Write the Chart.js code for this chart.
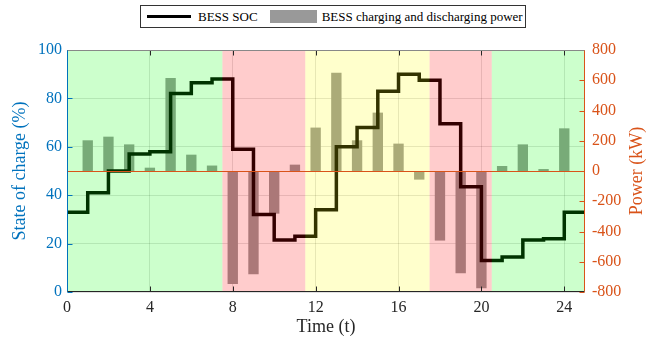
<!DOCTYPE html>
<html>
<head>
<meta charset="utf-8">
<script src="https://cdn.jsdelivr.net/npm/chart.js@4"></script>
<style>
  body { margin: 0; background: #fff; font-family: "Liberation Serif", "Times New Roman", serif; }
  #wrap { position: relative; width: 665px; height: 340px; }
  #legend { position: absolute; left: 140px; top: 5px; width: 386px; height: 23px; box-sizing: border-box;
            border: 1px solid #333; background: #fff; font-size: 13px; color: #000;
            display: flex; align-items: center; white-space: nowrap; }
  .ln { width: 44px; height: 3px; background: #000; margin-left: 6px; }
  .bx { width: 47px; height: 13px; background: #999; margin-left: 12px; }
  .t1 { margin-left: 7px; }
  .t2 { margin-left: 5px; }
</style>
</head>
<body>
<div id="wrap">
  <canvas id="chart" width="665" height="340"></canvas>
  <div id="legend"><span class="ln"></span><span class="t1">BESS SOC</span><span class="bx"></span><span class="t2">BESS charging and discharging power</span></div>
</div>
<script>
// state of charge, value held from each hour to the next
const socTime = [0, 1, 2, 3, 4, 5, 6, 7, 8, 9, 10, 11, 12, 13, 14, 15, 16, 17, 18, 19, 20, 21, 22, 23, 24, 25];
const soc = [33, 41, 50, 57, 58, 82, 86.5, 88, 59, 32, 21.5, 23, 34, 60, 68, 83, 90, 87.5, 69.5, 43.5, 13, 14.5, 21.5, 22, 33, 33];

// battery power per hour (kW)
const powerTime = [1, 2, 3, 4, 5, 6, 7, 8, 9, 10, 11, 12, 13, 14, 15, 16, 17, 18, 19, 20, 21, 22, 23, 24];
const power = [203, 227, 176, 22, 615, 108, 36, -747, -683, -282, 42, 287, 650, 203, 386, 181, -57, -460, -676, -775, 33, 176, 13, 282];

const xTicks = [0, 4, 8, 12, 16, 20, 24];

// tariff periods shaded over the data
const regionStart = [0, 7.5, 11.5, 17.5, 20.5];
const regionEnd = [7.5, 11.5, 17.5, 20.5, 25];
const regionColor = ['rgba(0,255,0,0.2)', 'rgba(255,0,0,0.2)', 'rgba(255,255,0,0.2)', 'rgba(255,0,0,0.2)', 'rgba(0,255,0,0.2)'];

const blue = 'rgb(0,114,189)';
const orange = 'rgb(217,83,25)';
const dark = 'rgb(38,38,38)';
const serif = '"Liberation Serif", "Times New Roman", serif';

const overlay = {
  id: 'overlay',
  afterDatasetsDraw(chart) {
    const { ctx, chartArea: a, scales: { x, y1 } } = chart;
    ctx.save();
    regionStart.forEach((s, i) => {
      const x0 = x.getPixelForValue(s), x1 = x.getPixelForValue(regionEnd[i]);
      ctx.fillStyle = regionColor[i];
      ctx.fillRect(x0, a.top, x1 - x0, a.bottom - a.top);
    });
    const z = Math.round(y1.getPixelForValue(0)) + 0.5;
    ctx.strokeStyle = orange;
    ctx.lineWidth = 1;
    ctx.beginPath(); ctx.moveTo(a.left, z); ctx.lineTo(a.right, z); ctx.stroke();
    ctx.restore();
  },
  afterDraw(chart) {
    const { ctx, chartArea: a, scales: { x, y, y1 } } = chart;
    const L = Math.round(a.left) + 0.5, R = Math.round(a.right) - 0.5;
    const T = Math.round(a.top) + 0.5, B = Math.round(a.bottom) - 0.5;
    ctx.save();
    ctx.lineWidth = 1;
    // tick marks inside the box
    ctx.strokeStyle = dark;
    x.ticks.forEach(t => {
      const px = Math.round(x.getPixelForValue(t.value)) + 0.5;
      ctx.beginPath(); ctx.moveTo(px, B); ctx.lineTo(px, B - 5); ctx.moveTo(px, T); ctx.lineTo(px, T + 5); ctx.stroke();
    });
    ctx.strokeStyle = blue;
    y.ticks.forEach(t => {
      const py = Math.round(y.getPixelForValue(t.value)) + 0.5;
      ctx.beginPath(); ctx.moveTo(L, py); ctx.lineTo(L + 5, py); ctx.stroke();
    });
    ctx.strokeStyle = orange;
    y1.ticks.forEach(t => {
      const py = Math.round(y1.getPixelForValue(t.value)) + 0.5;
      ctx.beginPath(); ctx.moveTo(R, py); ctx.lineTo(R - 5, py); ctx.stroke();
    });
    // axes box
    ctx.strokeStyle = '#888';
    ctx.beginPath(); ctx.moveTo(L, T); ctx.lineTo(R, T); ctx.stroke();
    ctx.strokeStyle = dark;
    ctx.beginPath(); ctx.moveTo(L, B); ctx.lineTo(R, B); ctx.stroke();
    ctx.strokeStyle = blue;
    ctx.beginPath(); ctx.moveTo(L, T); ctx.lineTo(L, B); ctx.stroke();
    ctx.strokeStyle = orange;
    ctx.beginPath(); ctx.moveTo(R, T); ctx.lineTo(R, B); ctx.stroke();
    // right axis title, reading bottom to top
    ctx.translate(637, (a.top + a.bottom) / 2);
    ctx.rotate(-Math.PI / 2);
    ctx.fillStyle = orange;
    ctx.font = '18px ' + serif;
    ctx.textAlign = 'center';
    ctx.textBaseline = 'middle';
    ctx.fillText('Power (kW)', 0, 0);
    ctx.restore();
  }
};

new Chart(document.getElementById('chart').getContext('2d'), {
  type: 'bar',
  data: {
    datasets: [
      {
        type: 'line',
        label: 'BESS SOC',
        data: socTime.map((t, i) => ({ x: t, y: soc[i] })),
        yAxisID: 'y',
        stepped: true,
        borderColor: '#000',
        borderWidth: 3.5,
        pointRadius: 0,
        fill: false,
        order: 0
      },
      {
        type: 'bar',
        label: 'BESS charging and discharging power',
        data: powerTime.map((t, i) => ({ x: t, y: power[i] })),
        yAxisID: 'y1',
        backgroundColor: 'rgb(150,150,150)',
        categoryPercentage: 1,
        barPercentage: 0.5,
        order: 1
      }
    ]
  },
  options: {
    responsive: false,
    animation: false,
    layout: { padding: { top: 50, left: 0, right: 0, bottom: 0 } },
    plugins: { legend: { display: false }, tooltip: { enabled: false } },
    scales: {
      x: {
        type: 'linear', min: 0, max: 25, offset: false,
        grid: { offset: false, color: 'rgba(0,0,0,0.12)', drawTicks: false },
        border: { display: false },
        ticks: { color: dark, padding: 6, font: { family: serif, size: 16 } },
        afterBuildTicks: s => { s.ticks = xTicks.map(v => ({ value: v })); },
        afterFit: s => { s.height = 48; },
        title: { display: true, text: 'Time (t)', color: dark, padding: 2, font: { family: serif, size: 18 } }
      },
      y: {
        position: 'left', min: 0, max: 100,
        grid: { color: 'rgba(0,0,0,0.12)', drawTicks: false },
        border: { display: false },
        ticks: { stepSize: 20, color: blue, padding: 5, font: { family: serif, size: 16 } },
        afterFit: s => { s.width = 67; },
        title: { display: true, text: 'State of charge (%)', color: blue, padding: 9, font: { family: serif, size: 18 } }
      },
      y1: {
        position: 'right', min: -800, max: 800,
        grid: { display: false, drawTicks: false },
        border: { display: false },
        ticks: { stepSize: 200, color: orange, padding: 7, font: { family: serif, size: 16 } },
        afterFit: s => { s.width = 80; }
      }
    }
  },
  plugins: [overlay]
});
</script>
</body>
</html>
